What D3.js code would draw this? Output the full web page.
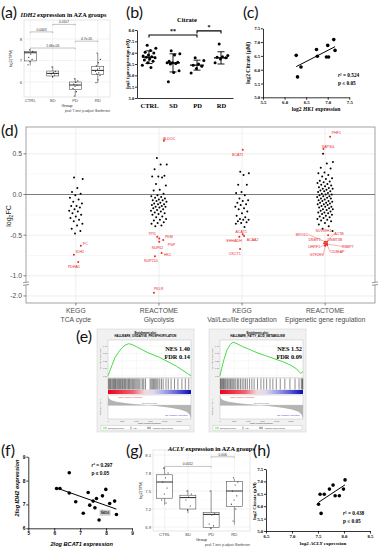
<!DOCTYPE html>
<html>
<head>
<meta charset="utf-8">
<script src="https://cdn.jsdelivr.net/npm/d3@7/dist/d3.min.js"></script>
<style>
  body { margin: 0; background: #fff; }
  svg { display: block; }
</style>
</head>
<body>
<svg id="fig" width="382" height="550"></svg>
<script>
// ---------- values ----------
const groups = ["CTRL", "SD", "PD", "RD"];

// (a) IDH2 log2(TPM); boxes are [min, q1, median, q3, max]
const idh2Box = [[6.77, 6.98, 7.36, 7.42, 7.52], [6.19, 6.28, 6.40, 6.51, 6.72], [5.32, 5.65, 5.86, 6.00, 6.17], [5.95, 6.35, 6.54, 6.73, 7.35]];
const idh2Pts = [[7.5, 7.42, 7.3, 7.15, 7.05, 6.95, 6.8], [6.7, 6.5, 6.45, 6.38, 6.32, 6.25], [6.15, 6.05, 5.98, 5.9, 5.85, 5.8, 5.7, 5.55, 5.35], [7.35, 7.05, 6.9, 6.75, 6.65, 6.6, 6.5, 6.42, 6.38, 6.3, 6.1, 5.97]];
const idh2Ticks = [6, 7, 8];
const idh2Tests = [["CTRL", "SD", "0.0443", 8.33], ["SD", "PD", "0.0107", 8.68], ["CTRL", "PD", "1.68e-06", 7.58], ["PD", "RD", "4.7e-05", 7.9]];

// (b) citrate, log2 concentration
const citratePts = [[7.33, 7.2, 7.1, 7.02, 6.98, 6.9, 6.85, 6.82, 6.8, 6.78, 6.72, 6.68, 6.62, 6.55, 6.45, 6.35], [7.08, 6.95, 6.9, 6.62, 6.58, 6.55, 6.55, 6.52, 6.5, 6.2, 6.12, 5.72], [6.78, 6.65, 6.5, 6.45, 6.4, 6.3, 6.1], [7.38, 6.88, 6.82, 6.8, 6.78, 6.72, 6.55]];
const citrateMean = [6.8, 6.55, 6.45, 6.77];
const citrateSd = [0.28, 0.4, 0.22, 0.27];
const citrateTicks = [5, 5.5, 6, 6.5, 7, 7.5, 8];
const citrateTests = [["CTRL", "PD", "**", 7.78], ["PD", "RD", "*", 7.96]];

// (c) HK1 vs citrate
const hk1Expr = [6.27, 6.30, 6.38, 6.74, 6.76, 6.97, 7.02, 7.0, 7.14, 7.17];
const hk1Citrate = [6.52, 5.74, 6.10, 6.73, 6.49, 6.46, 6.46, 6.88, 7.09, 6.70];
const hk1Ticks = [5.5, 6, 6.5, 7, 7.5];
const citrateScatterTicks = [5, 5.5, 6, 6.5, 7, 7.5];

// (d) log2FC per pathway
const dCategories = [["KEGG", "TCA cycle"], ["REACTOME", "Glycolysis"], ["KEGG", "Val/Leu/Ile degradation"], ["REACTOME", "Epigenetic gene regulation"]];
const tcaFC = [0.21, 0.19, 0.08, 0.03, 0.01, -0.01, -0.04, -0.06, -0.09, -0.11, -0.14, -0.14, -0.16, -0.18, -0.2, -0.21, -0.23, -0.25, -0.27, -0.29, -0.31, -0.33, -0.36, -0.38, -0.42, -0.45, -0.48];
const glycolysisFC = [0.45, 0.37, 0.37, 0.31, 0.23, 0.22, 0.22, 0.21, 0.13, 0.11, 0.06, 0.05, 0.01, -0.01, -0.02, -0.03, -0.04, -0.05, -0.06, -0.07, -0.07, -0.08, -0.09, -0.1, -0.11, -0.12, -0.12, -0.13, -0.14, -0.15, -0.15, -0.16, -0.17, -0.18, -0.19, -0.2, -0.21, -0.22, -0.23, -0.24, -0.25, -0.27, -0.28, -0.3, -0.31, -0.32, -0.34, -0.35, -0.36, -0.38, -0.39];
const bcaaFC = [0.28, 0.26, 0.24, 0.12, 0.12, 0.03, 0.02, -0.01, -0.05, -0.07, -0.08, -0.1, -0.12, -0.13, -0.15, -0.17, -0.18, -0.21, -0.23, -0.26, -0.28, -0.3, -0.31, -0.31, -0.33, -0.34, -0.35, -0.36, -0.4];
const epigeneticFC = [0.5, 0.4, 0.38, 0.33, 0.32, 0.27, 0.26, 0.24, 0.22, 0.2, 0.19, 0.17, 0.16, 0.15, 0.14, 0.13, 0.12, 0.11, 0.1, 0.09, 0.08, 0.07, 0.07, 0.06, 0.05, 0.04, 0.04, 0.03, 0.02, 0.01, 0.0, 0.0, -0.01, -0.02, -0.02, -0.03, -0.04, -0.05, -0.05, -0.06, -0.07, -0.08, -0.08, -0.09, -0.1, -0.1, -0.11, -0.12, -0.12, -0.13, -0.14, -0.15, -0.15, -0.16, -0.17, -0.18, -0.18, -0.19, -0.2, -0.21, -0.22, -0.22, -0.23, -0.24, -0.25, -0.26, -0.27, -0.28, -0.29, -0.3, -0.31, -0.32, -0.33, -0.35, -0.37, -0.39, -0.42, -0.45];
const dTicks = [0.5, 0, -0.5, -1, -2];
const dTickLabels = ["0.5", "0.0", "-0.5", "-1.0", "-2.0"];
const dGenes = [[0, "PC", -0.63], [0, "IDH2", -0.74], [0, "PDHA1", -0.83],
  [1, "ALDOC", 0.66], [1, "TPI1", -0.52], [1, "PKM", -0.54], [1, "PGP", -0.56], [1, "NUP62", -0.58], [1, "HK1", -0.72], [1, "NUP210", -0.76], [1, "PKLR", -1.96],
  [2, "BCAT1", 0.55], [2, "ACAT1", -0.49], [2, "ACAA2", -0.51], [2, "EHHADH", -0.52], [2, "OXCT1", -0.67],
  [3, "PHF1", 0.71], [3, "SAP30L", 0.56], [3, "SUV39H1", -0.5], [3, "MYO1C", -0.58], [3, "ACTB", -0.58], [3, "DNMT1", -0.6], [3, "DNMT3B", -0.6], [3, "RBBP7", -0.61], [3, "UHRF1", -0.62], [3, "CD3EAP", -0.62], [3, "GTF2H3", -0.63]];

// (e) GSEA running enrichment scores [rank, ES], hit ranks, ranked list metric
const esOxphos = [[0, 0], [300, 0.06], [700, 0.14], [1200, 0.24], [1800, 0.31], [2400, 0.37], [3000, 0.41], [3600, 0.43], [4200, 0.42], [5000, 0.39], [6000, 0.35], [7000, 0.31], [8000, 0.28], [9000, 0.25], [10000, 0.21], [11000, 0.17], [12000, 0.13], [13000, 0.08], [14000, 0.03], [14600, 0]];
const esFatty = [[0, 0], [300, 0.1], [700, 0.22], [1200, 0.34], [1800, 0.42], [2300, 0.45], [3000, 0.43], [4000, 0.39], [5000, 0.36], [6500, 0.31], [8000, 0.27], [9500, 0.23], [11000, 0.19], [12500, 0.14], [13500, 0.09], [14200, 0.03], [14600, 0.06]];
const hitsOxphos = [100, 250, 400, 520, 700, 850, 1000, 1150, 1300, 1420, 1600, 1750, 1900, 2050, 2200, 2400, 2550, 2700, 2900, 3050, 3200, 3400, 3600, 3750, 3900, 4100, 4300, 4500, 4700, 4900, 5100, 5300, 5500, 5800, 6100, 6300, 6600, 7400, 7600, 7800, 8000, 8200, 8400, 8600, 8800, 9100, 9400, 9700, 10200, 10600, 11100, 11700, 12300, 13000, 13600, 14200];
const hitsFatty = [80, 200, 330, 480, 600, 750, 900, 1050, 1250, 1400, 1600, 1800, 1950, 2150, 2350, 2600, 2800, 3100, 3300, 3600, 3900, 4200, 4500, 4800, 5200, 5600, 6000, 6600, 7200, 7700, 8200, 8800, 9300, 9900, 10600, 11400, 12300, 13200, 13900, 14300, 14450, 14550];
const rankMetric = [[0, 0.72], [150, 0.5], [600, 0.36], [1500, 0.26], [3000, 0.17], [4500, 0.1], [6000, 0.04], [7200, 0], [8500, -0.06], [10000, -0.13], [11500, -0.22], [12800, -0.33], [13800, -0.48], [14300, -0.66], [14600, -0.95]];
const esTicks = [0, 0.1, 0.2, 0.3, 0.4];
const rankTicks = [0, 2500, 5000, 7500, 10000, 12500];

// (f) BCAT1 vs IDH2
const bcat1Expr = [6.09, 6.22, 6.58, 6.58, 6.83, 7.12, 7.31, 7.37, 7.5, 7.57, 7.63, 7.73, 7.86, 7.99, 8.14, 8.33, 8.4, 7.85];
const idh2Expr = [7.67, 7.67, 8.33, 7.48, 7.11, 6.63, 7.5, 6.97, 7.14, 6.86, 7.25, 6.35, 7.36, 7.63, 7.04, 7.14, 6.58, 6.7];
const bcat1Ticks = [5, 6, 7, 8, 9];
const idh2ExprTicks = [6, 7, 8, 9];

// (g) ACLY log2(TPM)
const aclyBox = [[7.27, 7.38, 7.65, 7.77, 7.9], [7.13, 7.2, 7.39, 7.43, 7.52], [6.87, 6.89, 7.11, 7.14, 7.51], [6.94, 7.24, 7.5, 7.66, 7.7]];
const aclyPts = [[7.88, 7.8, 7.72, 7.65, 7.55, 7.45, 7.35, 7.3], [7.5, 7.45, 7.4, 7.35, 7.25, 7.18], [7.5, 7.12, 7.1, 6.95, 6.92, 6.88], [7.72, 7.65, 7.6, 7.5, 7.42, 7.35, 7.28, 7.2, 7.0]];
const aclyTicks = [6.9, 7.2, 7.5, 7.8, 8.1];
const aclyTests = [["CTRL", "PD", "0.0012", 7.91], ["PD", "RD", "0.006", 8.07]];

// (h) ACLY vs citrate
const aclyExpr = [7.51, 7.54, 7.62, 7.56, 7.72, 7.79, 7.83, 7.91, 7.99, 8.02];
const aclyCitrate = [6.08, 6.48, 6.48, 5.71, 6.69, 6.85, 6.42, 6.42, 6.69, 7.06];
const aclyExprTicks = [6.5, 7, 7.5, 8, 8.5];

// ---------- drawing ----------
const SERIF = "'Liberation Serif','DejaVu Serif',serif";
const SANS = "'Liberation Sans','DejaVu Sans',Arial,sans-serif";
const PANEL = "Lato,'Open Sans',sans-serif";
const RED = "#e8261f";

const svg = d3.select("#fig");
svg.append("rect").attr("width", 382).attr("height", 550).attr("fill", "#fff");

// spread for dot/jitter plots (layout only)
function jit(i, w) { return ((i * 0.618034 + 0.37) % 1 - 0.5) * 2 * w; }

function txt(g, x, y, s, size, font, attrs) {
  const t = g.append("text").attr("x", x).attr("y", y).attr("font-size", size).attr("font-family", font || SANS).text(s);
  if (attrs) Object.keys(attrs).forEach(k => t.attr(k, attrs[k]));
  return t;
}
function rich(g, x, y, parts, size, font, attrs) {
  const t = g.append("text").attr("x", x).attr("y", y).attr("font-size", size).attr("font-family", font);
  parts.forEach(p => t.append("tspan").attr("font-style", p[1] ? "italic" : "normal").text(p[0]));
  if (attrs) Object.keys(attrs).forEach(k => t.attr(k, attrs[k]));
  return t;
}
function axisStyle(sel, font, size, weight) {
  sel.select(".domain").attr("stroke", "#000").attr("stroke-width", 0.8);
  sel.selectAll(".tick line").attr("stroke", "#000").attr("stroke-width", 0.8);
  sel.selectAll(".tick text").attr("font-family", font).attr("font-weight", weight).attr("font-size", size).attr("fill", "#000");
}
function ols(xs, ys) {
  const mx = d3.mean(xs), my = d3.mean(ys);
  const b = d3.sum(xs, (v, i) => (v - mx) * (ys[i] - my)) / d3.sum(xs, v => (v - mx) * (v - mx));
  return v => my + b * (v - mx);
}

// panel letters
[["(a)", 1, 18], ["(b)", 126, 18], ["(c)", 243, 18], ["(d)", 1, 136], ["(e)", 76, 342], ["(f)", 1, 456], ["(g)", 126, 456], ["(h)", 253, 456]]
  .forEach(p => txt(svg, p[1], p[2], p[0], 16, PANEL, { fill: "#111" }));

// ggplot-like box plots: (a) and (g)
function ggBox(o) {
  const g = svg.append("g");
  const x = d3.scalePoint().domain(groups).range(o.xr).padding(0.5);
  const y = d3.scaleLinear().domain(o.dom).range(o.yr);
  g.append("rect").attr("x", o.px[0]).attr("y", o.py[0]).attr("width", o.px[1] - o.px[0]).attr("height", o.py[1] - o.py[0]).attr("fill", "#fff");
  const minor = d3.pairs(o.ticks).map(p => (p[0] + p[1]) / 2);
  minor.forEach(v => g.append("line").attr("x1", o.px[0]).attr("x2", o.px[1]).attr("y1", y(v)).attr("y2", y(v)).attr("stroke", "#f2f2f2").attr("stroke-width", 0.4));
  o.ticks.forEach(v => g.append("line").attr("x1", o.px[0]).attr("x2", o.px[1]).attr("y1", y(v)).attr("y2", y(v)).attr("stroke", "#e6e6e6").attr("stroke-width", 0.5));
  groups.forEach(k => g.append("line").attr("x1", x(k)).attr("x2", x(k)).attr("y1", o.py[0]).attr("y2", o.py[1]).attr("stroke", "#e6e6e6").attr("stroke-width", 0.5));
  g.append("rect").attr("x", o.px[0]).attr("y", o.py[0]).attr("width", o.px[1] - o.px[0]).attr("height", o.py[1] - o.py[0]).attr("fill", "none").attr("stroke", "#cfcfcf").attr("stroke-width", 0.5);
  const bw = o.bw;
  groups.forEach((k, i) => {
    const b = o.box[i], cx = x(k);
    g.append("line").attr("x1", cx).attr("x2", cx).attr("y1", y(b[0])).attr("y2", y(b[1])).attr("stroke", "#333").attr("stroke-width", 0.5);
    g.append("line").attr("x1", cx).attr("x2", cx).attr("y1", y(b[3])).attr("y2", y(b[4])).attr("stroke", "#333").attr("stroke-width", 0.5);
    g.append("rect").attr("x", cx - bw / 2).attr("y", y(b[3])).attr("width", bw).attr("height", y(b[1]) - y(b[3])).attr("fill", "#fff").attr("stroke", "#333").attr("stroke-width", 0.5);
    g.append("line").attr("x1", cx - bw / 2).attr("x2", cx + bw / 2).attr("y1", y(b[2])).attr("y2", y(b[2])).attr("stroke", "#111").attr("stroke-width", 0.9);
    g.selectAll(null).data(o.pts[i]).join("circle")
      .attr("cx", (d, j) => cx + jit(j, bw * 0.22)).attr("cy", d => y(d)).attr("r", 0.6).attr("fill", "#222");
  });
  o.tests.forEach(t => {
    const x1 = x(t[0]), x2 = x(t[1]), yy = y(t[3]);
    g.append("path").attr("d", `M${x1},${yy + 1.2}V${yy}H${x2}V${yy + 1.2}`).attr("fill", "none").attr("stroke", "#555").attr("stroke-width", 0.35);
    txt(g, (x1 + x2) / 2, yy - 1, t[2], 3.3, SANS, { "text-anchor": "middle", fill: "#333" });
  });
  o.ticks.forEach(v => txt(g, o.px[0] - 2, y(v) + 1.5, o.tickFmt(v), 4.2, SANS, { "text-anchor": "end", fill: "#444" }));
  groups.forEach(k => txt(g, x(k), o.py[1] + 4.5, k, 4.3, SANS, { "text-anchor": "middle", fill: "#444" }));
  txt(g, (o.px[0] + o.px[1]) / 2, o.py[1] + 9.5, "Group", 4, SANS, { "text-anchor": "middle", fill: "#222" });
  txt(g, o.px[1], o.py[1] + 15, "pval: T-test; p.adjust: Bonferroni", 3.2, SANS, { "text-anchor": "end", fill: "#333" });
  txt(g, 0, 0, "log2(TPM)", 3.8, SANS, { "text-anchor": "middle", fill: "#222", transform: `translate(${o.ylabX},${(o.py[0] + o.py[1]) / 2}) rotate(-90)` });
  rich(g, o.title[0], o.title[1], [[o.gene, true], [" expression in AZA groups", false]], 6.3, SERIF, { "font-weight": "bold" });
}

ggBox({ xr: [19, 109], dom: [6, 8], yr: [82, 39], px: [24, 110], py: [20, 97], bw: 12, box: idh2Box, pts: idh2Pts,
  ticks: idh2Ticks, tests: idh2Tests, tickFmt: d3.format("d"), ylabX: 12, title: [20.5, 17], gene: "IDH2" });
ggBox({ xr: [153, 246], dom: [6.9, 8.1], yr: [527, 455], px: [153, 250], py: [450, 531], bw: 16, box: aclyBox, pts: aclyPts,
  ticks: aclyTicks, tests: aclyTests, tickFmt: d3.format(".1f"), ylabX: 142, title: [168, 450.5], gene: "ACLY" });

// (b) citrate dot plot
(function () {
  const g = svg.append("g");
  const x = d3.scalePoint().domain(groups).range([137, 233]).padding(0.5);
  const y = d3.scaleLinear().domain([5, 8]).range([98, 30]);
  g.append("g").attr("transform", "translate(137,0)")
    .call(d3.axisLeft(y).tickValues(citrateTicks).tickFormat(d3.format(".1f")).tickSize(2).tickSizeOuter(0).tickPadding(0.8))
    .call(s => axisStyle(s, SERIF, 4.6, "bold"));
  g.append("g").attr("transform", "translate(0,98)")
    .call(d3.axisBottom(x).tickSize(0).tickSizeOuter(0).tickPadding(5))
    .call(s => axisStyle(s, SERIF, 6.5, "bold"));
  groups.forEach((k, i) => {
    const cx = x(k);
    g.selectAll(null).data(citratePts[i]).join("circle")
      .attr("cx", (d, j) => cx + jit(j, 7)).attr("cy", d => y(d)).attr("r", 1.5).attr("fill", "#000");
    const m = citrateMean[i], s = citrateSd[i];
    g.append("line").attr("x1", cx - 7).attr("x2", cx + 7).attr("y1", y(m)).attr("y2", y(m)).attr("stroke", "#000").attr("stroke-width", 1.2);
    g.append("line").attr("x1", cx).attr("x2", cx).attr("y1", y(m + s)).attr("y2", y(m - s)).attr("stroke", "#000").attr("stroke-width", 0.9);
    [m + s, m - s].forEach(v => g.append("line").attr("x1", cx - 3.5).attr("x2", cx + 3.5).attr("y1", y(v)).attr("y2", y(v)).attr("stroke", "#000").attr("stroke-width", 0.9));
  });
  citrateTests.forEach(t => {
    const x1 = x(t[0]), x2 = x(t[1]), yy = y(t[3]);
    g.append("path").attr("d", `M${x1},${yy + 2.5}V${yy}H${x2}V${yy + 2.5}`).attr("fill", "none").attr("stroke", "#000").attr("stroke-width", 1.1);
    txt(g, (x1 + x2) / 2, yy - 2, t[2], 6, SERIF, { "text-anchor": "middle", "font-weight": "bold" });
  });
  txt(g, 187, 22, "Citrate", 6.5, SERIF, { "text-anchor": "middle", "font-weight": "bold" });
  txt(g, 0, 0, "log2 (concentration \u03bcM)", 4.8, SERIF, { "text-anchor": "middle", "font-weight": "bold", transform: "translate(128.5,64) rotate(-90)" });
})();

// Prism-like scatter with regression: (c), (f), (h)
function prismScatter(o) {
  const g = svg.append("g");
  const x = d3.scaleLinear().domain(o.xd).range(o.xr);
  const y = d3.scaleLinear().domain(o.yd).range(o.yr);
  g.append("g").attr("transform", `translate(0,${o.yr[0]})`)
    .call(d3.axisBottom(x).tickValues(o.xt).tickFormat(o.fmt).tickSize(2.5).tickSizeOuter(0).tickPadding(0.8))
    .call(s => axisStyle(s, o.font, o.fs, "bold"));
  g.append("g").attr("transform", `translate(${o.xr[0]},0)`)
    .call(d3.axisLeft(y).tickValues(o.yt).tickFormat(o.fmt).tickSize(2).tickSizeOuter(0).tickPadding(0.8))
    .call(s => axisStyle(s, o.font, o.fs, "bold"));
  const fit = ols(o.xs, o.ys), ext = d3.extent(o.xs);
  g.append("line").attr("x1", x(ext[0])).attr("x2", x(ext[1])).attr("y1", y(fit(ext[0]))).attr("y2", y(fit(ext[1])))
    .attr("stroke", "#000").attr("stroke-width", 1);
  g.selectAll(null).data(o.xs).join("circle")
    .attr("cx", d => x(d)).attr("cy", (d, i) => y(o.ys[i])).attr("r", 1.8).attr("fill", "#000");
  const r2 = g.append("text").attr("x", o.stat[0]).attr("y", o.stat[1]).attr("font-size", o.sfs).attr("font-family", o.font).attr("font-weight", "bold");
  r2.append("tspan").attr("font-style", "italic").text("r");
  r2.append("tspan").text("\u00b2 = " + o.r2);
  txt(g, o.stat[0], o.stat[1] + 7.5, "p \u2264 0.05", o.sfs, o.font, { "font-weight": "bold" });
  rich(g, o.xl[0], o.xl[1], o.xlab, o.ls, o.font, { "text-anchor": "middle", "font-weight": "bold", "font-style": o.labItalic ? "italic" : "normal" });
  rich(g, 0, 0, o.ylab, o.ls, o.font, { "text-anchor": "middle", "font-weight": "bold", transform: `translate(${o.yl[0]},${o.yl[1]}) rotate(-90)` });
  return { g, x, y };
}

prismScatter({ xd: [5.5, 7.5], xr: [263, 349.3], yd: [5, 7.5], yr: [97.3, 28.3], xt: hk1Ticks, yt: citrateScatterTicks,
  fmt: d3.format(".1f"), font: SERIF, fs: 4.8, sfs: 5.3, xs: hk1Expr, ys: hk1Citrate, r2: "0.524", stat: [338, 77],
  xl: [316, 110.5], xlab: [["log2 ", false], ["HK1", true], [" expression", false]], yl: [249.5, 63], ylab: [["log2 Citrate (\u03bcM)", false]], ls: 5.6 });

const fPlot = prismScatter({ xd: [5, 9], xr: [28.3, 132], yd: [6, 9], yr: [528.3, 456.7], xt: bcat1Ticks, yt: idh2ExprTicks,
  fmt: d3.format("d"), font: SANS, fs: 4.8, sfs: 4.8, xs: bcat1Expr, ys: idh2Expr, r2: "0.297", stat: [91.5, 467],
  xl: [81.7, 545.5], xlab: [["2log ", true], ["BCAT1", true], [" expression", true]], yl: [18.5, 488], ylab: [["2log ", true], ["IDH2", true], [" expression", true]], ls: 5.6, labItalic: true });
fPlot.g.append("rect").attr("x", fPlot.x(7.75)).attr("y", fPlot.y(6.78)).attr("width", 11).attr("height", 6).attr("fill", "#c9c9c9").attr("opacity", 0.9);
txt(fPlot.g, fPlot.x(7.75) + 5.5, fPlot.y(6.78) + 4.5, "9456", 4, SANS, { "text-anchor": "middle", "font-weight": "bold", fill: "#333" });

prismScatter({ xd: [6.5, 8.5], xr: [266, 370], yd: [5, 7.5], yr: [531, 469], xt: aclyExprTicks, yt: citrateScatterTicks,
  fmt: d3.format(".1f"), font: SERIF, fs: 4.8, sfs: 5.3, xs: aclyExpr, ys: aclyCitrate, r2: "0.438", stat: [343, 515],
  xl: [323, 545], xlab: [["log2 ", false], ["ACLY", true], [" expression", false]], yl: [255.5, 501], ylab: [["log2 Citrate (\u03bcM)", false]], ls: 5 });

// (d) log2FC strip chart with a broken y axis
(function () {
  const g = svg.append("g");
  const L = 26, R = 375, T = 127, B = 303;
  const x = d3.scalePoint().domain([0, 1, 2, 3]).range([L, R]).padding(0.6);
  const y = d3.scaleLinear().domain([-2.09, -1.88, -1.12, 0.83]).range([303.3, 286.2, 285.6, 127]);
  g.append("rect").attr("x", L).attr("y", T).attr("width", R - L).attr("height", B - T).attr("fill", "#fff");
  [0.75, 0.25, -0.25, -0.75].forEach(v => g.append("line").attr("x1", L).attr("x2", R).attr("y1", y(v)).attr("y2", y(v)).attr("stroke", "#f1f1f1").attr("stroke-width", 0.5));
  dTicks.forEach(v => g.append("line").attr("x1", L).attr("x2", R).attr("y1", y(v)).attr("y2", y(v)).attr("stroke", "#e2e2e2").attr("stroke-width", 0.6));
  x.domain().forEach(i => g.append("line").attr("x1", x(i)).attr("x2", x(i)).attr("y1", T).attr("y2", B).attr("stroke", "#e2e2e2").attr("stroke-width", 0.6));
  g.append("line").attr("x1", L).attr("x2", R).attr("y1", y(0)).attr("y2", y(0)).attr("stroke", "#6e6e6e").attr("stroke-width", 0.9);
  g.append("rect").attr("x", L).attr("y", T).attr("width", R - L).attr("height", B - T).attr("fill", "none").attr("stroke", "#8c8c8c").attr("stroke-width", 0.8);
  // axis break marks
  [L, R].forEach(bx => {
    g.append("rect").attr("x", bx - 3).attr("y", 282.3).attr("width", 6).attr("height", 2.6).attr("fill", "#fff");
    [282.3, 284.9].forEach(by => g.append("line").attr("x1", bx - 3).attr("x2", bx + 3).attr("y1", by + 0.4).attr("y2", by - 0.4).attr("stroke", "#555").attr("stroke-width", 0.6));
  });
  dTicks.forEach((v, i) => {
    g.append("line").attr("x1", L - 2.5).attr("x2", L).attr("y1", y(v)).attr("y2", y(v)).attr("stroke", "#333").attr("stroke-width", 0.6);
    txt(g, L - 4, y(v) + 2.4, dTickLabels[i], 6.8, SANS, { "text-anchor": "end", fill: "#4d4d4d" });
  });
  dCategories.forEach((c, i) => {
    g.append("line").attr("x1", x(i)).attr("x2", x(i)).attr("y1", B).attr("y2", B + 2.5).attr("stroke", "#333").attr("stroke-width", 0.6);
    txt(g, x(i), 313, c[0], 6.8, SANS, { "text-anchor": "middle", fill: "#4d4d4d" });
    txt(g, x(i), 321.5, c[1], 6.8, SANS, { "text-anchor": "middle", fill: "#4d4d4d" });
  });
  const yl = g.append("text").attr("transform", "translate(11,216) rotate(-90)").attr("text-anchor", "middle").attr("font-family", SANS).attr("font-size", 7).attr("fill", "#222");
  yl.append("tspan").text("log");
  yl.append("tspan").attr("font-size", 5).attr("dy", 1.5).text("2");
  yl.append("tspan").attr("dy", -1.5).text("FC");
  const widths = [7, 8, 7, 8];
  [tcaFC, glycolysisFC, bcaaFC, epigeneticFC].forEach((vals, i) => {
    g.selectAll(null).data(vals).join("circle")
      .attr("cx", (d, j) => x(i) + jit(j, widths[i])).attr("cy", d => y(d)).attr("r", 1).attr("fill", "#000");
  });
  // label placement for highlighted genes: [point shift, label dx, label dy, anchor, leader line]
  const geneLayout = {
    PC: [5, 2, -1, "start"], IDH2: [-2, 2, -2, "start"], PDHA1: [2.4, 1.7, 6, "end"],
    ALDOC: [5, -1, -1, "start"], TPI1: [-1.7, -1.3, -2, "end"], PKM: [0.3, 5.7, -0.6, "start"], PGP: [4.3, 4.4, 5.7, "start"],
    NUP62: [0.3, 4, 7, "end"], HK1: [2.7, 2.3, 3, "start"], NUP210: [-4, 2.7, 6, "end"], PKLR: [-5, 0, -2.4, "start"],
    BCAT1: [0.7, 0.6, 6, "end"], ACAT1: [0.7, -1.5, -1.5, "middle"], EHHADH: [-2.7, 2.4, 5.6, "end"], ACAA2: [2, 2.7, 4.7, "start"], OXCT1: [-2, 0.7, 6.4, "end"],
    PHF1: [5, 1.7, -2.7, "start"], SAP30L: [-1.7, -1.6, -1.3, "start"], SUV39H1: [3, -4.7, -3, "middle"],
    MYO1C: [0, -16.7, -5.9, "end", true], ACTB: [2, 7, -6.9, "start", true], DNMT1: [-1, -3.3, -2.5, "end"], DNMT3B: [1, 1.3, -2.5, "start"],
    RBBP7: [2, 14.7, 3.5, "start", true], UHRF1: [0, -5, 3.2, "end", true], CD3EAP: [2, 3, 8.2, "start", true], GTF2H3: [0, -1.7, 10.1, "end", true]
  };
  dGenes.forEach(d => {
    const lay = geneLayout[d[1]];
    const px = x(d[0]) + lay[0], py = y(d[2]);
    if (lay[4]) g.append("line").attr("x1", px).attr("y1", py).attr("x2", px + lay[1]).attr("y2", py + lay[2] - 1.3).attr("stroke", RED).attr("stroke-width", 0.35);
    g.append("circle").attr("cx", px).attr("cy", py).attr("r", 1).attr("fill", RED);
    txt(g, px + lay[1], py + lay[2], d[1], 3.6, SANS, { "text-anchor": lay[3], fill: RED });
  });
})();

// (e) GSEA enrichment plots
const defs = svg.append("defs");
function gsea(x0, title, es, hits, nes, fdr) {
  const g = svg.append("g");
  const top = 329, W = 97, H = 103, L = x0 + 11, R = x0 + 94;
  g.append("rect").attr("x", x0).attr("y", top).attr("width", W).attr("height", H).attr("fill", "#f1f1f1").attr("stroke", "#cfcfcf").attr("stroke-width", 0.5);
  txt(g, x0 + W / 2, top + 4.5, "Enrichment plot:", 2.8, SANS, { "text-anchor": "middle", "font-weight": "bold" });
  txt(g, x0 + W / 2, top + 8, title, 2.8, SANS, { "text-anchor": "middle", "font-weight": "bold" });
  const x = d3.scaleLinear().domain([0, 14600]).range([L, R]);
  const yEs = d3.scaleLinear().domain([-0.03, 0.48]).range([378, 340]);
  g.append("rect").attr("x", L).attr("y", 340).attr("width", R - L).attr("height", 38).attr("fill", "#fff").attr("stroke", "#9a9a9a").attr("stroke-width", 0.3);
  esTicks.forEach(v => {
    g.append("line").attr("x1", L).attr("x2", R).attr("y1", yEs(v)).attr("y2", yEs(v)).attr("stroke", "#e6e6e6").attr("stroke-width", 0.3);
    txt(g, L - 1, yEs(v) + 0.8, d3.format(".2f")(v), 2.1, SANS, { "text-anchor": "end", fill: "#555" });
  });
  rankTicks.forEach(v => g.append("line").attr("x1", x(v)).attr("x2", x(v)).attr("y1", 340).attr("y2", 378).attr("stroke", "#ececec").attr("stroke-width", 0.3));
  g.append("path").datum(es).attr("d", d3.line().x(d => x(d[0])).y(d => yEs(d[1])))
    .attr("fill", "none").attr("stroke", "#35d635").attr("stroke-width", 0.9);
  txt(g, R - 1, 351, "NES " + nes, 6.3, SERIF, { "text-anchor": "end", "font-weight": "bold" });
  txt(g, R - 1, 358.5, "FDR " + fdr, 6.3, SERIF, { "text-anchor": "end", "font-weight": "bold" });
  txt(g, 0, 0, "Enrichment score (ES)", 2.1, SANS, { "text-anchor": "middle", fill: "#444", transform: `translate(${x0 + 4},359) rotate(-90)` });
  // hits
  g.append("rect").attr("x", L).attr("y", 378).attr("width", R - L).attr("height", 12).attr("fill", "#fff").attr("stroke", "#9a9a9a").attr("stroke-width", 0.3);
  g.selectAll(null).data(hits).join("line").attr("x1", d => x(d)).attr("x2", d => x(d)).attr("y1", 378.5).attr("y2", 389.5)
    .attr("stroke", "#000").attr("stroke-width", 0.45);
  // rank gradient
  const gid = "grad" + x0;
  const gr = defs.append("linearGradient").attr("id", gid);
  [[0, "#e8001c"], [0.3, "#f2606e"], [0.45, "#f4dbe2"], [0.55, "#dadaf2"], [0.8, "#6f6fe2"], [1, "#0c0cb0"]]
    .forEach(s => gr.append("stop").attr("offset", s[0]).attr("stop-color", s[1]));
  g.append("rect").attr("x", L).attr("y", 390).attr("width", R - L).attr("height", 4).attr("fill", `url(#${gid})`);
  // ranked list metric
  const yM = d3.scaleLinear().domain([-1, 0.75]).range([419, 395]);
  g.append("rect").attr("x", L).attr("y", 395).attr("width", R - L).attr("height", 24).attr("fill", "#fff").attr("stroke", "#9a9a9a").attr("stroke-width", 0.3);
  g.append("path").datum(rankMetric).attr("d", d3.area().x(d => x(d[0])).y0(yM(0)).y1(d => yM(d[1])))
    .attr("fill", "#b4b4b4");
  g.append("line").attr("x1", L).attr("x2", R).attr("y1", yM(0)).attr("y2", yM(0)).attr("stroke", "#888").attr("stroke-width", 0.3);
  txt(g, x(7300), yM(0) - 0.8, "Zero score at 7300", 1.8, SANS, { "text-anchor": "middle", fill: "#666" });
  txt(g, x(12000), 416, "'RD' (negatively correlated)", 1.9, SANS, { "text-anchor": "middle", fill: "#2233dd" });
  txt(g, x(1800), 397.5, "'CTRL' (positively correlated)", 1.9, SANS, { "text-anchor": "start", fill: RED });
  txt(g, 0, 0, "Ranked list metric", 2.1, SANS, { "text-anchor": "middle", fill: "#444", transform: `translate(${x0 + 4},407) rotate(-90)` });
  rankTicks.forEach(v => txt(g, x(v), 421.5, d3.format(",")(v), 1.8, SANS, { "text-anchor": "middle", fill: "#555" }));
  txt(g, (L + R) / 2, 424.3, "Rank in Ordered Dataset", 2.1, SANS, { "text-anchor": "middle", fill: "#333" });
  g.append("rect").attr("x", x0 + 4).attr("y", 425.7).attr("width", W - 8).attr("height", 4.3).attr("fill", "#fff").attr("stroke", "#aaa").attr("stroke-width", 0.3);
  g.append("line").attr("x1", x0 + 6).attr("x2", x0 + 10).attr("y1", 427.9).attr("y2", 427.9).attr("stroke", "#35d635").attr("stroke-width", 0.8);
  txt(g, x0 + 11, 428.7, "Enrichment profile", 2, SANS, { fill: "#333" });
  g.append("line").attr("x1", x0 + 34).attr("x2", x0 + 34).attr("y1", 426.5).attr("y2", 429.3).attr("stroke", "#000").attr("stroke-width", 0.4);
  txt(g, x0 + 36, 428.7, "Hits", 2, SANS, { fill: "#333" });
  g.append("rect").attr("x", x0 + 50).attr("y", 426.8).attr("width", 4).attr("height", 2.2).attr("fill", "#b4b4b4");
  txt(g, x0 + 56, 428.7, "Ranking metric scores", 2, SANS, { fill: "#333" });
}
gsea(97, "HALLMARK_OXIDATIVE_PHOSPHORYLATION", esOxphos, hitsOxphos, "1.40", "0.14");
gsea(209, "HALLMARK_FATTY_ACID_METABOLISM", esFatty, hitsFatty, "1.52", "0.09");
</script>
</body>
</html>
